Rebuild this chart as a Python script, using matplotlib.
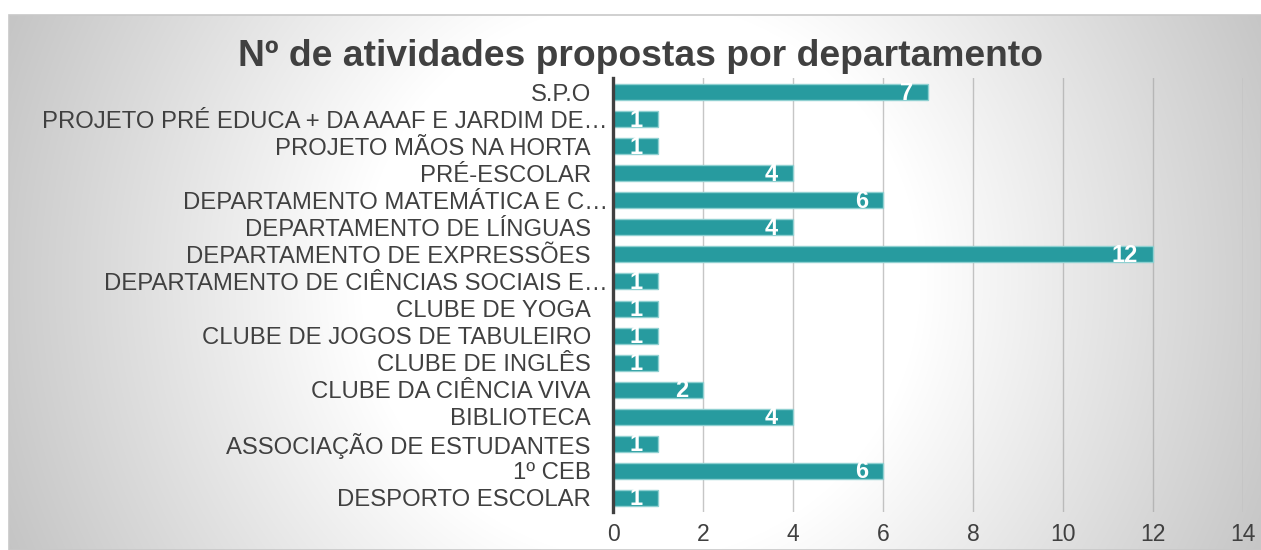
import numpy as np
import matplotlib
matplotlib.use("Agg")
import matplotlib.pyplot as plt
import matplotlib.transforms as mtransforms
from matplotlib.patches import Rectangle

categories = [
    "S.P.O",
    "PROJETO PRÉ EDUCA + DA AAAF E JARDIM DE…",
    "PROJETO MÃOS NA HORTA",
    "PRÉ-ESCOLAR",
    "DEPARTAMENTO MATEMÁTICA E C…",
    "DEPARTAMENTO DE LÍNGUAS",
    "DEPARTAMENTO DE EXPRESSÕES",
    "DEPARTAMENTO DE CIÊNCIAS SOCIAIS E…",
    "CLUBE DE YOGA",
    "CLUBE DE JOGOS DE TABULEIRO",
    "CLUBE DE INGLÊS",
    "CLUBE DA CIÊNCIA VIVA",
    "BIBLIOTECA",
    "ASSOCIAÇÃO DE ESTUDANTES",
    "1º CEB",
    "DESPORTO ESCOLAR",
]
values = [7, 1, 1, 4, 6, 4, 12, 1, 1, 1, 1, 2, 4, 1, 6, 1]
xticks = [0, 2, 4, 6, 8, 10, 12, 14]
title = "Nº de atividades propostas por departamento"

plt.rcParams['font.family'] = ['Liberation Sans', 'DejaVu Sans']

W, H = 1261, 550
fig = plt.figure(figsize=(W / 100, H / 100), dpi=100)
fig.patch.set_facecolor('white')

# background radial gradient in the chart area
bx0, by0 = 9, 15  # left / top offsets in px
bg = fig.add_axes([bx0 / W, 0, (W - bx0) / W, (H - by0) / H], zorder=0)
gw, gh = W - bx0, H - by0
xx, yy = np.meshgrid(np.arange(gw) + bx0, np.arange(gh) + by0)
cx, cy = 640, 280
r = np.sqrt((xx - cx) ** 2 + (yy - cy) ** 2)
val = 255 - np.clip(r - 280, 0, None) * 0.144
val = np.clip(val, 180, 255) / 255.0
img = np.dstack([val, val, val])
bg.imshow(img, aspect='auto', extent=[0, 1, 0, 1], origin='upper')
bg.set_xlim(0, 1)
bg.set_ylim(0, 1)
bg.axis('off')
bg.add_patch(Rectangle((0, 0), 1, 1, transform=bg.transAxes, fill=False,
                       edgecolor='#c8c8c8', linewidth=1.2, clip_on=False))

# main axes
left, right = 613 / W, 1243 / W
bottom, top = (H - 511.5) / H, (H - 78.5) / H
ax = fig.add_axes([left, bottom, right - left, top - bottom], zorder=1)
ax.set_facecolor('none')

y = np.arange(len(categories))
bars = ax.barh(y, values, height=0.59, color='#279B9F', edgecolor='#8fd0d1',
               linewidth=1.0, zorder=3)
ax.set_ylim(len(categories) - 0.5, -0.5)
ax.set_xlim(0, 14)
ax.set_xticks(xticks)
ax.set_yticks(y)
ax.set_yticklabels(categories)
ax.grid(axis='x', color='#a0a0a0', alpha=0.6, linewidth=1.0, zorder=1)
ax.set_axisbelow(True)

for s in ['top', 'right', 'bottom']:
    ax.spines[s].set_visible(False)
ax.spines['left'].set_color('#404040')
ax.spines['left'].set_linewidth(2.4)
ax.spines['left'].set_zorder(4)

ax.tick_params(axis='both', length=0, labelcolor='#404040')
ax.tick_params(axis='y', pad=16, labelsize=17.2)
ax.tick_params(axis='x', pad=8.5, labelsize=16.5)

# truncated labels: the ellipsis hangs past the right alignment edge
shift = mtransforms.ScaledTranslation(17 / 100, 0, fig.dpi_scale_trans)
for lbl in ax.get_yticklabels():
    if lbl.get_text().endswith("…"):
        lbl.set_transform(lbl.get_transform() + shift)

for yi, v in zip(y, values):
    ax.annotate(str(v), xy=(v, yi), xytext=(-15, -1), textcoords='offset pixels',
                ha='right', va='center', color='white', fontsize=17,
                fontweight='bold', zorder=5)

fig.text(641 / W, 1 - 57 / H, title, ha='center', va='center',
         fontsize=26.8, fontweight='bold', color='#404040')

fig.savefig('out.png', dpi=100)
